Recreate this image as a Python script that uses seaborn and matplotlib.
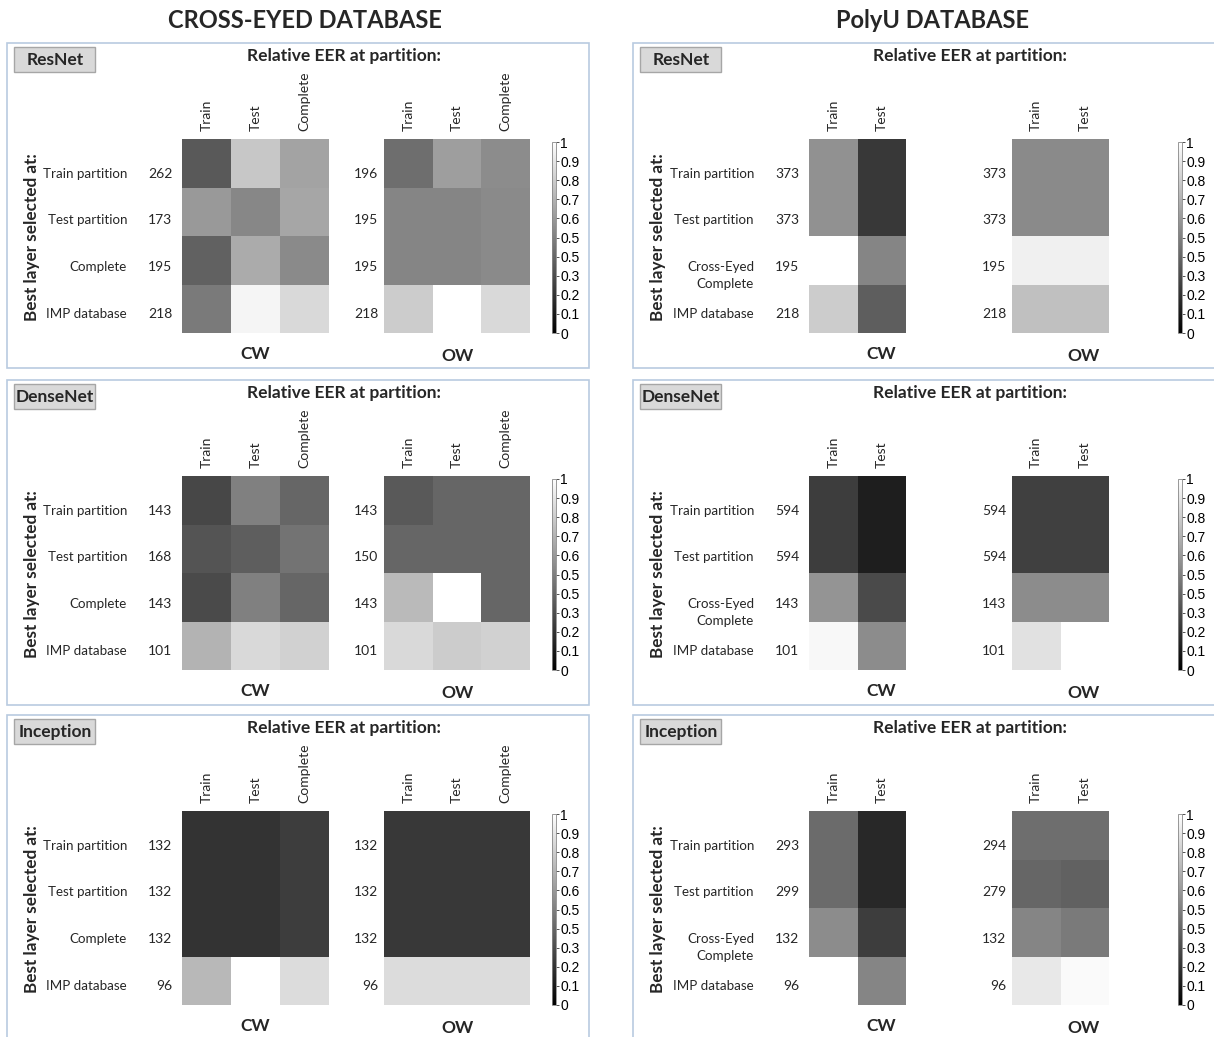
import numpy as np
import pandas as pd
import matplotlib
matplotlib.use("Agg")
import matplotlib.pyplot as plt
import matplotlib.transforms as mtrans
from matplotlib.patches import Rectangle
import seaborn as sns

# ---------------- data ----------------
db_titles = ["CROSS-EYED DATABASE", "PolyU DATABASE"]
net_names = ["ResNet", "DenseNet", "Inception"]
groups = ["CW", "OW"]

cross_cols = ["Train", "Test", "Complete"]
polyu_cols = ["Train", "Test"]
cross_rows = ["Train partition", "Test partition", "Complete", "IMP database"]
polyu_rows = ["Train partition", "Test partition", "Cross-Eyed\nComplete", "IMP database"]

# best layer numbers (CW, OW)
cross_resnet_layers_cw = [262, 173, 195, 218]
cross_resnet_layers_ow = [196, 195, 195, 218]
cross_densenet_layers_cw = [143, 168, 143, 101]
cross_densenet_layers_ow = [143, 150, 143, 101]
cross_inception_layers_cw = [132, 132, 132, 96]
cross_inception_layers_ow = [132, 132, 132, 96]
polyu_resnet_layers_cw = [373, 373, 195, 218]
polyu_resnet_layers_ow = [373, 373, 195, 218]
polyu_densenet_layers_cw = [594, 594, 143, 101]
polyu_densenet_layers_ow = [594, 594, 143, 101]
polyu_inception_layers_cw = [293, 299, 132, 96]
polyu_inception_layers_ow = [294, 279, 132, 96]

# relative EER values
cross_resnet_cw = [[0.35, 0.78, 0.64], [0.60, 0.53, 0.65], [0.38, 0.67, 0.54], [0.48, 0.96, 0.85]]
cross_resnet_ow = [[0.43, 0.62, 0.55], [0.52, 0.52, 0.54], [0.52, 0.52, 0.54], [0.80, 1.00, 0.85]]
cross_densenet_cw = [[0.28, 0.50, 0.40], [0.33, 0.37, 0.45], [0.29, 0.50, 0.40], [0.70, 0.85, 0.82]]
cross_densenet_ow = [[0.35, 0.40, 0.40], [0.40, 0.40, 0.40], [0.73, 1.00, 0.40], [0.85, 0.80, 0.82]]
cross_inception_cw = [[0.20, 0.20, 0.24], [0.20, 0.20, 0.24], [0.20, 0.20, 0.24], [0.72, 1.00, 0.86]]
cross_inception_ow = [[0.22, 0.22, 0.22], [0.22, 0.22, 0.22], [0.22, 0.22, 0.22], [0.86, 0.86, 0.86]]
polyu_resnet_cw = [[0.57, 0.22], [0.57, 0.22], [1.00, 0.52], [0.80, 0.37]]
polyu_resnet_ow = [[0.54, 0.54], [0.54, 0.54], [0.94, 0.94], [0.75, 0.75]]
polyu_densenet_cw = [[0.24, 0.12], [0.24, 0.12], [0.58, 0.29], [0.97, 0.55]]
polyu_densenet_ow = [[0.25, 0.25], [0.25, 0.25], [0.55, 0.55], [0.88, 1.00]]
polyu_inception_cw = [[0.42, 0.16], [0.42, 0.16], [0.55, 0.24], [1.00, 0.52]]
polyu_inception_ow = [[0.43, 0.43], [0.40, 0.38], [0.52, 0.48], [0.91, 0.98]]

cbar_ticks = [0, 0.1, 0.2, 0.3, 0.4, 0.5, 0.6, 0.7, 0.8, 0.9, 1.0]
cbar_labels = ["0", "0.1", "0.2", "0.3", "0.5", "0.5", "0.6", "0.7", "0.8", "0.9", "1"]

panels = {
    (0, 0): (cross_resnet_cw, cross_resnet_ow, cross_resnet_layers_cw, cross_resnet_layers_ow),
    (1, 0): (cross_densenet_cw, cross_densenet_ow, cross_densenet_layers_cw, cross_densenet_layers_ow),
    (2, 0): (cross_inception_cw, cross_inception_ow, cross_inception_layers_cw, cross_inception_layers_ow),
    (0, 1): (polyu_resnet_cw, polyu_resnet_ow, polyu_resnet_layers_cw, polyu_resnet_layers_ow),
    (1, 1): (polyu_densenet_cw, polyu_densenet_ow, polyu_densenet_layers_cw, polyu_densenet_layers_ow),
    (2, 1): (polyu_inception_cw, polyu_inception_ow, polyu_inception_layers_cw, polyu_inception_layers_ow),
}

# ---------------- style ----------------
sns.set_style("white")
plt.rcParams["font.family"] = ["Lato", "DejaVu Sans"]

W, H = 1214, 1037
fig = plt.figure(figsize=(W / 100, H / 100), dpi=100)
fig.patch.set_facecolor("white")


def ax_px(x0, y0, x1, y1):
    return fig.add_axes([x0 / W, 1 - y1 / H, (x1 - x0) / W, (y1 - y0) / H])


def ftext(x, y, s, **kw):
    fig.text(x / W, 1 - y / H, s, **kw)


box_color = "#b9cbe0"
col_dx = [0, 626]
row_dy = [0, 337, 672]

ftext(305, 20, db_titles[0], ha="center", va="center", fontsize=17, fontweight="bold")
ftext(932, 20, db_titles[1], ha="center", va="center", fontsize=17, fontweight="bold")

for (r, c), (cw_vals, ow_vals, cw_layers, ow_layers) in panels.items():
    dx, dy = col_dx[c], row_dy[r]
    cols = cross_cols if c == 0 else polyu_cols
    rows = cross_rows if c == 0 else polyu_rows

    # panel frame
    fig.patches.append(Rectangle(((7 + dx) / W, 1 - (368 + dy) / H), 582 / W, 325 / H,
                                 transform=fig.transFigure, fill=False,
                                 edgecolor=box_color, linewidth=1.2))
    # network name box
    fig.patches.append(Rectangle(((14 + dx) / W, 1 - (72 + dy) / H), 81 / W, 25 / H,
                                 transform=fig.transFigure, facecolor="#d9d9d9",
                                 edgecolor="#a6a6a6", linewidth=1.0))
    ftext(55 + dx, 60 + dy, net_names[r], ha="center", va="center", fontsize=12.5, fontweight="bold")
    ftext(344 + dx, 56 + dy, "Relative EER at partition:", ha="center", va="center",
          fontsize=12.5, fontweight="bold")
    ftext(32 + dx, 237 + dy, "Best layer selected at:", ha="center", va="center",
          rotation=90, fontsize=12.3, fontweight="bold")
    ftext(255 + dx, 354 + dy, "CW", ha="center", va="center", fontsize=12.5, fontweight="bold")
    ftext(458 + dx, 356 + dy, "OW", ha="center", va="center", fontsize=12.5, fontweight="bold")

    if c == 0:
        cw_x, ow_x = (182, 329), (384, 530)
    else:
        cw_x, ow_x = (809 - 626, 906 - 626), (1012 - 626, 1109 - 626)

    ax_cw = ax_px(cw_x[0] + dx, 139 + dy, cw_x[1] + dx, 333 + dy)
    ax_ow = ax_px(ow_x[0] + dx, 139 + dy, ow_x[1] + dx, 333 + dy)
    cax = ax_px(552 + dx, 142 + dy, 556 + dx, 333 + dy)

    df_cw = pd.DataFrame(cw_vals, index=rows, columns=cols)
    df_ow = pd.DataFrame(ow_vals, index=rows, columns=cols)
    sns.heatmap(df_cw, ax=ax_cw, cmap="gray", vmin=0, vmax=1, cbar=False)
    sns.heatmap(df_ow, ax=ax_ow, cmap="gray", vmin=0, vmax=1, cbar=True, cbar_ax=cax,
                cbar_kws={"ticks": cbar_ticks})

    ypos = [0.72 + 0.96 * i for i in range(4)]
    for ax, layers, pad in ((ax_cw, cw_layers, 7), (ax_ow, ow_layers, 4)):
        ax.xaxis.tick_top()
        ax.set_xticklabels(cols, rotation=90, fontsize=10)
        ax.tick_params(axis="x", length=0, pad=6, top=True, bottom=False,
                       labeltop=True, labelbottom=False)
        ax.set_yticks(ypos)
        ax.set_yticklabels([str(v) for v in layers], rotation=0, fontsize=10)
        ax.tick_params(axis="y", length=0, pad=pad)
        ax.set_xlabel("")
        ax.set_ylabel("")

    # row names left of CW heatmap
    tr = mtrans.offset_copy(ax_cw.get_yaxis_transform(), fig=fig, x=-55, y=0, units="dots")
    for yp, name in zip(ypos, rows):
        yy = yp + (0.17 if "\n" in name else 0.0)
        ax_cw.text(0, yy, name, transform=tr, ha="right", va="center", fontsize=9.6,
                   linespacing=1.45)

    cb = ax_ow.collections[0].colorbar
    cb.set_ticks(cbar_ticks)
    cb.set_ticklabels(cbar_labels)
    cb.ax.tick_params(labelsize=10, length=2, width=0.6, pad=1, colors="#333333")
    for lbl in cb.ax.get_yticklabels():
        lbl.set_fontfamily(["Liberation Sans", "DejaVu Sans"])
        lbl.set_color("black")
    cb.outline.set_edgecolor("#888888")
    cb.outline.set_linewidth(0.6)

fig.savefig("out.png", dpi=100, facecolor="white")
